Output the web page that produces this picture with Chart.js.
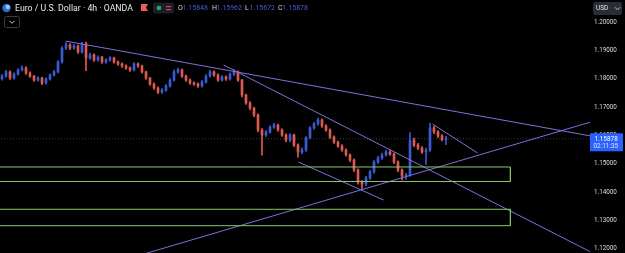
<!DOCTYPE html>
<html>
<head>
<meta charset="utf-8">
<script src="https://cdn.jsdelivr.net/npm/chart.js@4.4.1/dist/chart.umd.min.js"></script>
<style>
  html, body { margin: 0; padding: 0; background: #000; overflow: hidden; }
  canvas { display: block; }
</style>
</head>
<body>
<canvas id="chart" width="625" height="253"></canvas>
<script>
// EUR/USD 4h candles (oldest first)
const firstOpen = 1.1800;
const closes = [
  1.1809, 1.1824, 1.1802, 1.1816, 1.1831, 1.1838, 1.1820, 1.1809, 1.1795, 1.1802,
  1.1785, 1.1799, 1.1813, 1.1824, 1.1859, 1.1908, 1.1919, 1.1908, 1.1915, 1.1894,
  1.1922, 1.1873, 1.1884, 1.1866, 1.1876, 1.1859, 1.1866, 1.1873, 1.1859, 1.1852,
  1.1845, 1.1838, 1.1831, 1.1852, 1.1845, 1.1824, 1.1802, 1.1781, 1.1767, 1.1753,
  1.1760, 1.1774, 1.1795, 1.1824, 1.1831, 1.1809, 1.1795, 1.1785, 1.1781, 1.1774,
  1.1788, 1.1809, 1.1824, 1.1813, 1.1795, 1.1806, 1.1799, 1.1816, 1.1824, 1.1795,
  1.1742, 1.1714, 1.1696, 1.1672, 1.1619, 1.1601, 1.1612, 1.1629, 1.1636, 1.1619,
  1.1601, 1.1583, 1.1601, 1.1566, 1.1541, 1.1548, 1.1591, 1.1626, 1.1640, 1.1654,
  1.1633, 1.1619, 1.1594, 1.1576, 1.1562, 1.1548, 1.1531, 1.1513, 1.1478, 1.1435,
  1.1428, 1.1449, 1.1471, 1.1506, 1.1520, 1.1531, 1.1541, 1.1534, 1.1506, 1.1478,
  1.1456, 1.1460, 1.1583, 1.1566, 1.1555, 1.1541, 1.1548, 1.1626, 1.1612, 1.1598,
  1.15848, 1.15878
];
const highs = [
  1.1815, 1.1829, 1.1828, 1.1821, 1.1836, 1.1845, 1.1842, 1.1824, 1.1812, 1.1807,
  1.1806, 1.1803, 1.1817, 1.1829, 1.1864, 1.1913, 1.1927, 1.1924, 1.1921, 1.1919,
  1.1928, 1.1929, 1.1890, 1.1888, 1.1881, 1.1879, 1.1871, 1.1878, 1.1876, 1.1863,
  1.1856, 1.1849, 1.1842, 1.1857, 1.1856, 1.1848, 1.1827, 1.1805, 1.1785, 1.1771,
  1.1765, 1.1779, 1.1800, 1.1830, 1.1837, 1.1834, 1.1813, 1.1799, 1.1789, 1.1785,
  1.1793, 1.1814, 1.1829, 1.1828, 1.1817, 1.1811, 1.1810, 1.1821, 1.1832, 1.1828,
  1.1798, 1.1746, 1.1719, 1.1700, 1.1676, 1.1624, 1.1618, 1.1634, 1.1642, 1.1640,
  1.1623, 1.1605, 1.1606, 1.1604, 1.1570, 1.1556, 1.1596, 1.1631, 1.1646, 1.1661,
  1.1658, 1.1638, 1.1623, 1.1598, 1.1580, 1.1567, 1.1552, 1.1535, 1.1517, 1.1482,
  1.1440, 1.1455, 1.1476, 1.1511, 1.1526, 1.1537, 1.1548, 1.1546, 1.1538, 1.1510,
  1.1482, 1.1466, 1.1610, 1.1590, 1.1572, 1.1560, 1.1555, 1.1642, 1.1632, 1.1617,
  1.1603, 1.15962
];
const lows = [
  1.1795, 1.1805, 1.1797, 1.1798, 1.1812, 1.1827, 1.1815, 1.1804, 1.1790, 1.1791,
  1.1779, 1.1781, 1.1795, 1.1809, 1.1820, 1.1855, 1.1903, 1.1902, 1.1903, 1.1889,
  1.1890, 1.1828, 1.1868, 1.1861, 1.1862, 1.1854, 1.1855, 1.1862, 1.1855, 1.1847,
  1.1840, 1.1833, 1.1826, 1.1827, 1.1840, 1.1819, 1.1797, 1.1776, 1.1762, 1.1747,
  1.1748, 1.1756, 1.1770, 1.1791, 1.1819, 1.1804, 1.1790, 1.1780, 1.1776, 1.1769,
  1.1770, 1.1784, 1.1805, 1.1808, 1.1790, 1.1791, 1.1794, 1.1795, 1.1811, 1.1790,
  1.1736, 1.1709, 1.1690, 1.1666, 1.1612, 1.1530, 1.1596, 1.1608, 1.1624, 1.1614,
  1.1596, 1.1577, 1.1578, 1.1560, 1.1523, 1.1535, 1.1543, 1.1587, 1.1621, 1.1636,
  1.1628, 1.1614, 1.1589, 1.1571, 1.1557, 1.1543, 1.1526, 1.1507, 1.1472, 1.1428,
  1.1412, 1.1422, 1.1444, 1.1466, 1.1501, 1.1515, 1.1526, 1.1529, 1.1500, 1.1472,
  1.1443, 1.1445, 1.1455, 1.1560, 1.1549, 1.1536, 1.1497, 1.1543, 1.1606, 1.1592,
  1.1580, 1.15672
];

const tickValues = [1.12, 1.13, 1.14, 1.15, 1.16, 1.17, 1.18, 1.19, 1.20];
const lastPrice = 1.15878;
const lastTimer = '02:11:35';
const headerTitle = 'Euro / U.S. Dollar \u00b7 4h \u00b7 OANDA';
const headerLetters = ['O', 'H', 'L', 'C'];
const headerValues = ['1.15848', '1.15962', '1.15672', '1.15878'];

// drawings: [candle index, price] end points
const trendTop = [[15.9, 1.19329], [147.2, 1.15976]];
const trendSteep = [[55.4, 1.18482], [147.2, 1.11881]];
const trendChannel = [[74.1, 1.15058], [95.4, 1.13717]];
const trendRising = [[34.6, 1.11773], [147.2, 1.16470]];
const trendLast = [[107.6, 1.16400], [118.9, 1.15376]];
const zoneUpper = [1.14882, 1.14370];
const zoneLower = [1.13389, 1.12810];
const zoneStart = -0.9;
const zoneEnd = 127.1;

const UP = '#3a5bd6';
const DOWN = '#de5a50';
const LINE = '#7d71dc';
const ZONE = '#86c96d';
const FONT = 'Roboto, "Liberation Sans", sans-serif';

// each candle opens where the previous one closed
const opens = closes.map((c, i) => (i ? closes[i - 1] : firstOpen));
const candleColors = closes.map((c, i) => (c >= opens[i] ? UP : DOWN));
const wicks = closes.map((c, i) => ({ x: i, y: [lows[i], highs[i]] }));
const bodies = closes.map((c, i) => ({ x: i, y: [Math.min(opens[i], c), Math.max(opens[i], c)] }));

const toPoints = pts => pts.map(([x, y]) => ({ x, y }));
const zoneBox = ([top, bottom]) => [
  { x: zoneStart, y: top }, { x: zoneEnd, y: top },
  { x: zoneEnd, y: bottom }, { x: zoneStart, y: bottom }, { x: zoneStart, y: top }
];
const lineSet = (data, color, extra = {}) => ({
  type: 'line', data, borderColor: color, borderWidth: 1,
  pointRadius: 0, tension: 0, fill: false, order: 0, ...extra
});

function roundRect(c, x, y, w, h, r) {
  c.beginPath();
  c.moveTo(x + r, y);
  c.arcTo(x + w, y, x + w, y + h, r);
  c.arcTo(x + w, y + h, x, y + h, r);
  c.arcTo(x, y + h, x, y, r);
  c.arcTo(x, y, x + w, y, r);
  c.closePath();
}

function chevron(c, cx, cy, color) {
  c.strokeStyle = color;
  c.lineWidth = 1;
  c.beginPath();
  c.moveTo(cx - 2.5, cy - 1.2);
  c.lineTo(cx, cy + 1.3);
  c.lineTo(cx + 2.5, cy - 1.2);
  c.stroke();
}

const background = {
  id: 'background',
  beforeDraw(chart) {
    const c = chart.ctx;
    c.save();
    c.fillStyle = '#000';
    c.fillRect(0, 0, chart.width, chart.height);
    c.restore();
  }
};

const overlay = {
  id: 'overlay',
  afterDraw(chart) {
    const c = chart.ctx;
    const yScale = chart.scales.y;
    c.save();
    c.textBaseline = 'middle';

    // symbol icon
    c.fillStyle = '#2d6cd2';
    c.beginPath(); c.arc(6.5, 8, 4.2, 0, Math.PI * 2); c.fill();
    c.fillStyle = '#9fc2f5';
    c.beginPath(); c.arc(7.8, 7, 2.2, 0, Math.PI * 2); c.fill();

    // title, sized to the width it takes in the picture
    c.font = '10px ' + FONT;
    const size = 10 * 118 / c.measureText(headerTitle).width;
    c.font = size.toFixed(2) + 'px ' + FONT;
    c.fillStyle = '#e8e8ea';
    c.fillText(headerTitle, 15, 8.5);

    // red flag
    c.fillStyle = '#ef5a5a';
    c.beginPath();
    c.moveTo(141, 4); c.lineTo(148, 4); c.lineTo(146, 7.5); c.lineTo(148, 11); c.lineTo(141, 11);
    c.closePath(); c.fill();

    // market status pill
    c.fillStyle = '#1c1f26';
    roundRect(c, 153, 2.5, 21, 11, 2); c.fill();
    c.fillStyle = '#22ab70';
    c.beginPath(); c.arc(159, 8, 2.3, 0, Math.PI * 2); c.fill();
    c.fillStyle = '#e0405a';
    c.fillRect(166, 6, 5, 1.2);
    c.fillRect(166, 9, 5, 1.2);

    // OHLC readout
    c.font = '7px ' + FONT;
    const letterX = [178, 212, 245, 278];
    headerLetters.forEach((l, i) => {
      c.fillStyle = '#d8d8dc';
      c.fillText(l, letterX[i], 8.5);
      c.fillStyle = '#3f5fd8';
      c.fillText(headerValues[i], letterX[i] + 4.5, 8.5);
    });

    // collapse button under the title
    c.strokeStyle = '#3a3e48';
    c.lineWidth = 1;
    roundRect(c, 4.5, 16.5, 15, 11, 2); c.stroke();
    chevron(c, 12, 22, '#c8c8cc');

    // currency button
    c.fillStyle = '#2a2d35';
    roundRect(c, 593, 2, 29, 13, 2); c.fill();
    c.fillStyle = '#e0e0e4';
    c.font = '6.5px ' + FONT;
    c.fillText('USD', 596, 8.8);
    chevron(c, 617.5, 8.5, '#c8c8cc');

    // last price tag
    const py = yScale.getPixelForValue(lastPrice);
    c.fillStyle = '#2962ff';
    c.fillRect(590, py - 5.5, 33, 18);
    c.fillStyle = '#ffffff';
    c.font = '6.4px ' + FONT;
    c.fillText(lastPrice.toFixed(5), 594.5, py + 0.5);
    c.fillStyle = '#dfe6ff';
    c.fillText(lastTimer, 593.5, py + 8);

    c.restore();
  }
};

new Chart(document.getElementById('chart'), {
  type: 'bar',
  data: {
    datasets: [
      lineSet([{ x: -1, y: lastPrice }, { x: 148, y: lastPrice }], 'rgba(140,145,165,0.45)', { borderDash: [1, 2], order: 3 }),
      lineSet(zoneBox(zoneUpper), ZONE),
      lineSet(zoneBox(zoneLower), ZONE),
      lineSet(toPoints(trendTop), LINE),
      lineSet(toPoints(trendSteep), LINE),
      lineSet(toPoints(trendChannel), LINE),
      lineSet(toPoints(trendRising), LINE),
      lineSet(toPoints(trendLast), LINE),
      {
        label: 'wicks', data: wicks, backgroundColor: candleColors,
        barThickness: 1, grouped: false, order: 2
      },
      {
        label: 'bodies', data: bodies, backgroundColor: candleColors,
        barThickness: 2, minBarLength: 1, grouped: false, order: 1
      }
    ]
  },
  options: {
    responsive: false,
    animation: false,
    events: [],
    layout: { padding: 0 },
    plugins: { legend: { display: false }, tooltip: { enabled: false } },
    scales: {
      x: {
        type: 'linear', min: -0.5, max: 147, offset: false, display: false
      },
      y: {
        position: 'right',
        min: 1.11846,
        max: 1.20777,
        grid: { display: false, drawTicks: false },
        border: { display: false },
        ticks: {
          padding: 4,
          color: '#dcdde2',
          font: { family: FONT, size: 6.3 },
          callback: v => Number(v).toFixed(5)
        },
        afterBuildTicks: scale => { scale.ticks = tickValues.map(v => ({ value: v })); },
        afterFit: scale => { scale.width = 35; scale.paddingTop = 0; scale.paddingBottom = 0; }
      }
    }
  },
  plugins: [background, overlay]
});
</script>
</body>
</html>
